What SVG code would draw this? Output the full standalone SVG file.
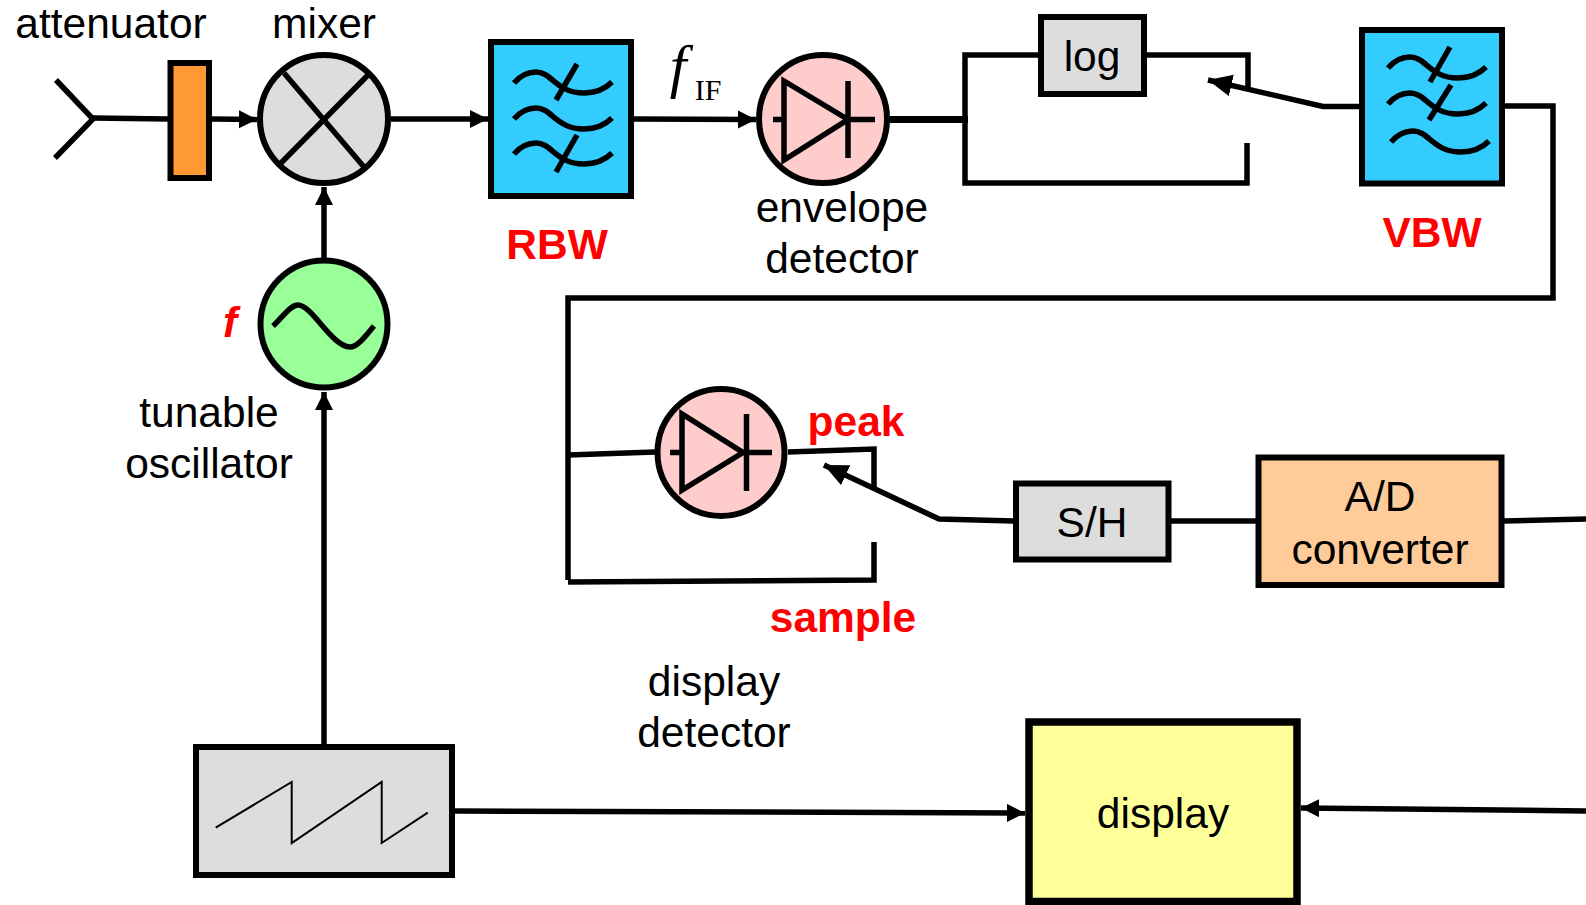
<svg xmlns="http://www.w3.org/2000/svg" width="1586" height="905" viewBox="0 0 1586 905">
<style>
text{font-family:"Liberation Sans",Arial,sans-serif;font-size:42.5px;fill:#000;text-anchor:middle}
.r{fill:#f00;font-weight:bold}
.n{stroke:#000;stroke-width:6}
.l{fill:none;stroke:#000;stroke-width:5.5}
.t{fill:none;stroke:#000;stroke-width:5.5}
</style>
<defs>
<marker id="a" markerUnits="userSpaceOnUse" markerWidth="20" markerHeight="20" refX="18" refY="9" orient="auto"><path d="M0,0L18,9L0,18z"/></marker>
<marker id="b" markerUnits="userSpaceOnUse" markerWidth="26" markerHeight="24" refX="24" refY="11" orient="auto"><path d="M0,0L24,11L0,22z"/></marker>
<path id="w" class="t" d="M0,12C6,5 13,1 22,1C38,1 42,22 70,22C82,22 92,17 98,11"/>
</defs>
<g id="connectors">
<path class="l" d="M93,118L168,119"/>
<path class="l" d="M212,119L257,119.500" marker-end="url(#a)"/>
<path class="l" d="M391,119L488,119" marker-end="url(#a)"/>
<path class="l" d="M324,258L324,187" marker-end="url(#a)"/>
<path class="l" d="M634,119L756,119.500" marker-end="url(#a)"/>
<path class="l" style="stroke-width:7" d="M889,119.500L968,119.500"/>
<path class="l" d="M1041,55L965,55L965,183L1247,183L1247,143"/>
<path class="l" d="M1144,55L1248,55L1248,87"/>
<path class="l" d="M1359,106.500L1323,106.500L1208,80" marker-end="url(#b)"/>
<path class="l" d="M1504,106L1553,106L1553,298L568,298L568,580"/>
<path class="l" d="M568,455L655,452"/>
<path class="l" d="M568,582L874,580L874,542"/>
<path class="l" d="M788,452L874,449L874,488"/>
<path class="l" d="M1014,521L939,519L824,465" marker-end="url(#b)"/>
<path class="l" d="M1170,521L1257,521"/>
<path class="l" d="M1503,521L1586,519"/>
<path class="l" d="M324,744L324,392" marker-end="url(#a)"/>
<path class="l" d="M455,811L1025,813" marker-end="url(#a)"/>
<path class="l" d="M1586,811L1301,808" marker-end="url(#a)"/>
</g>
<g id="antenna"><path class="l" d="M56,80L93,119L55,158"/></g>
<g id="attenuator"><rect class="n" x="170.500" y="63" width="38.500" height="115" fill="#f93"/><text x="111" y="38">attenuator</text></g>
<g id="mixer"><circle class="n" cx="324" cy="119" r="64" fill="#ddd"/><path class="l" d="M284,73L364,167M368,75L281,163"/><text x="324" y="38">mixer</text></g>
<g id="rbw"><rect class="n" x="491" y="42" width="140" height="154" fill="#3cf"/>
<use href="#w" x="514" y="71"/><use href="#w" x="514" y="107"/><use href="#w" x="514" y="142"/>
<path class="t" d="M577,64L556,100M577,135L556,172"/><text class="r" x="557" y="259">RBW</text></g>
<g id="fif"><text x="678" y="86" style="font-family:'Liberation Serif',serif;font-style:italic;font-size:60px">f</text><text x="708" y="100" style="font-family:'Liberation Serif',serif;font-size:30px">IF</text></g>
<g id="envelope"><circle class="n" cx="823" cy="119" r="64" fill="#fcc"/><path class="l" d="M784,81L784,160L848,119.500zM848,81L848,158M773,119.500L784,119.500M848,119.500L875,119.500"/><text x="842" y="222">envelope</text><text x="842" y="273">detector</text></g>
<g id="log"><rect class="n" x="1041" y="17" width="103" height="77" fill="#ddd"/><text x="1092" y="71">log</text></g>
<g id="vbw"><rect class="n" x="1362" y="30" width="140" height="153.500" fill="#3cf"/>
<use href="#w" x="1388" y="56"/><use href="#w" x="1388" y="92"/><use href="#w" x="1391" y="130"/>
<path class="t" d="M1450,47L1430,82M1451,85L1429,120"/><text class="r" x="1432" y="247">VBW</text></g>
<g id="osc"><circle class="n" cx="324" cy="324" r="63.500" fill="#9f9"/><path class="t" d="M273,326C282,318 290,305 298,305C312,305 332,347 350,347C358,347 366,335 374,326"/><text x="209" y="427">tunable</text><text x="209" y="478">oscillator</text><text class="r" x="230" y="337" style="font-style:italic">f</text></g>
<g id="peakdet"><circle class="n" cx="721" cy="452.500" r="63.500" fill="#fcc"/><path class="l" d="M682,414L682,490L743,452.500zM746.500,414L746.500,491M670,452.500L682,452.500M746.500,452.500L772,452.500"/><text class="r" x="856" y="436">peak</text><text class="r" x="843" y="632">sample</text><text x="714" y="696">display</text><text x="714" y="747">detector</text></g>
<g id="sh"><rect class="n" x="1016" y="483.500" width="152.500" height="76" fill="#ddd"/><text x="1092" y="537">S/H</text></g>
<g id="adc"><rect class="n" x="1258.500" y="457.500" width="243" height="127.500" fill="#fc9"/><text x="1380" y="511">A/D</text><text x="1380" y="564">converter</text></g>
<g id="sweep"><rect x="196" y="747" width="256" height="128" fill="#ddd" stroke="#000" stroke-width="6"/><path fill="none" stroke="#000" stroke-width="2" d="M215.700,827.700L291.700,782L291.700,843L381.700,782L381.700,843L427.700,812.700"/></g>
<g id="display"><rect x="1029" y="722" width="268" height="179.500" fill="#ff9" stroke="#000" stroke-width="7.500"/><text x="1163" y="828">display</text></g>
</svg>
